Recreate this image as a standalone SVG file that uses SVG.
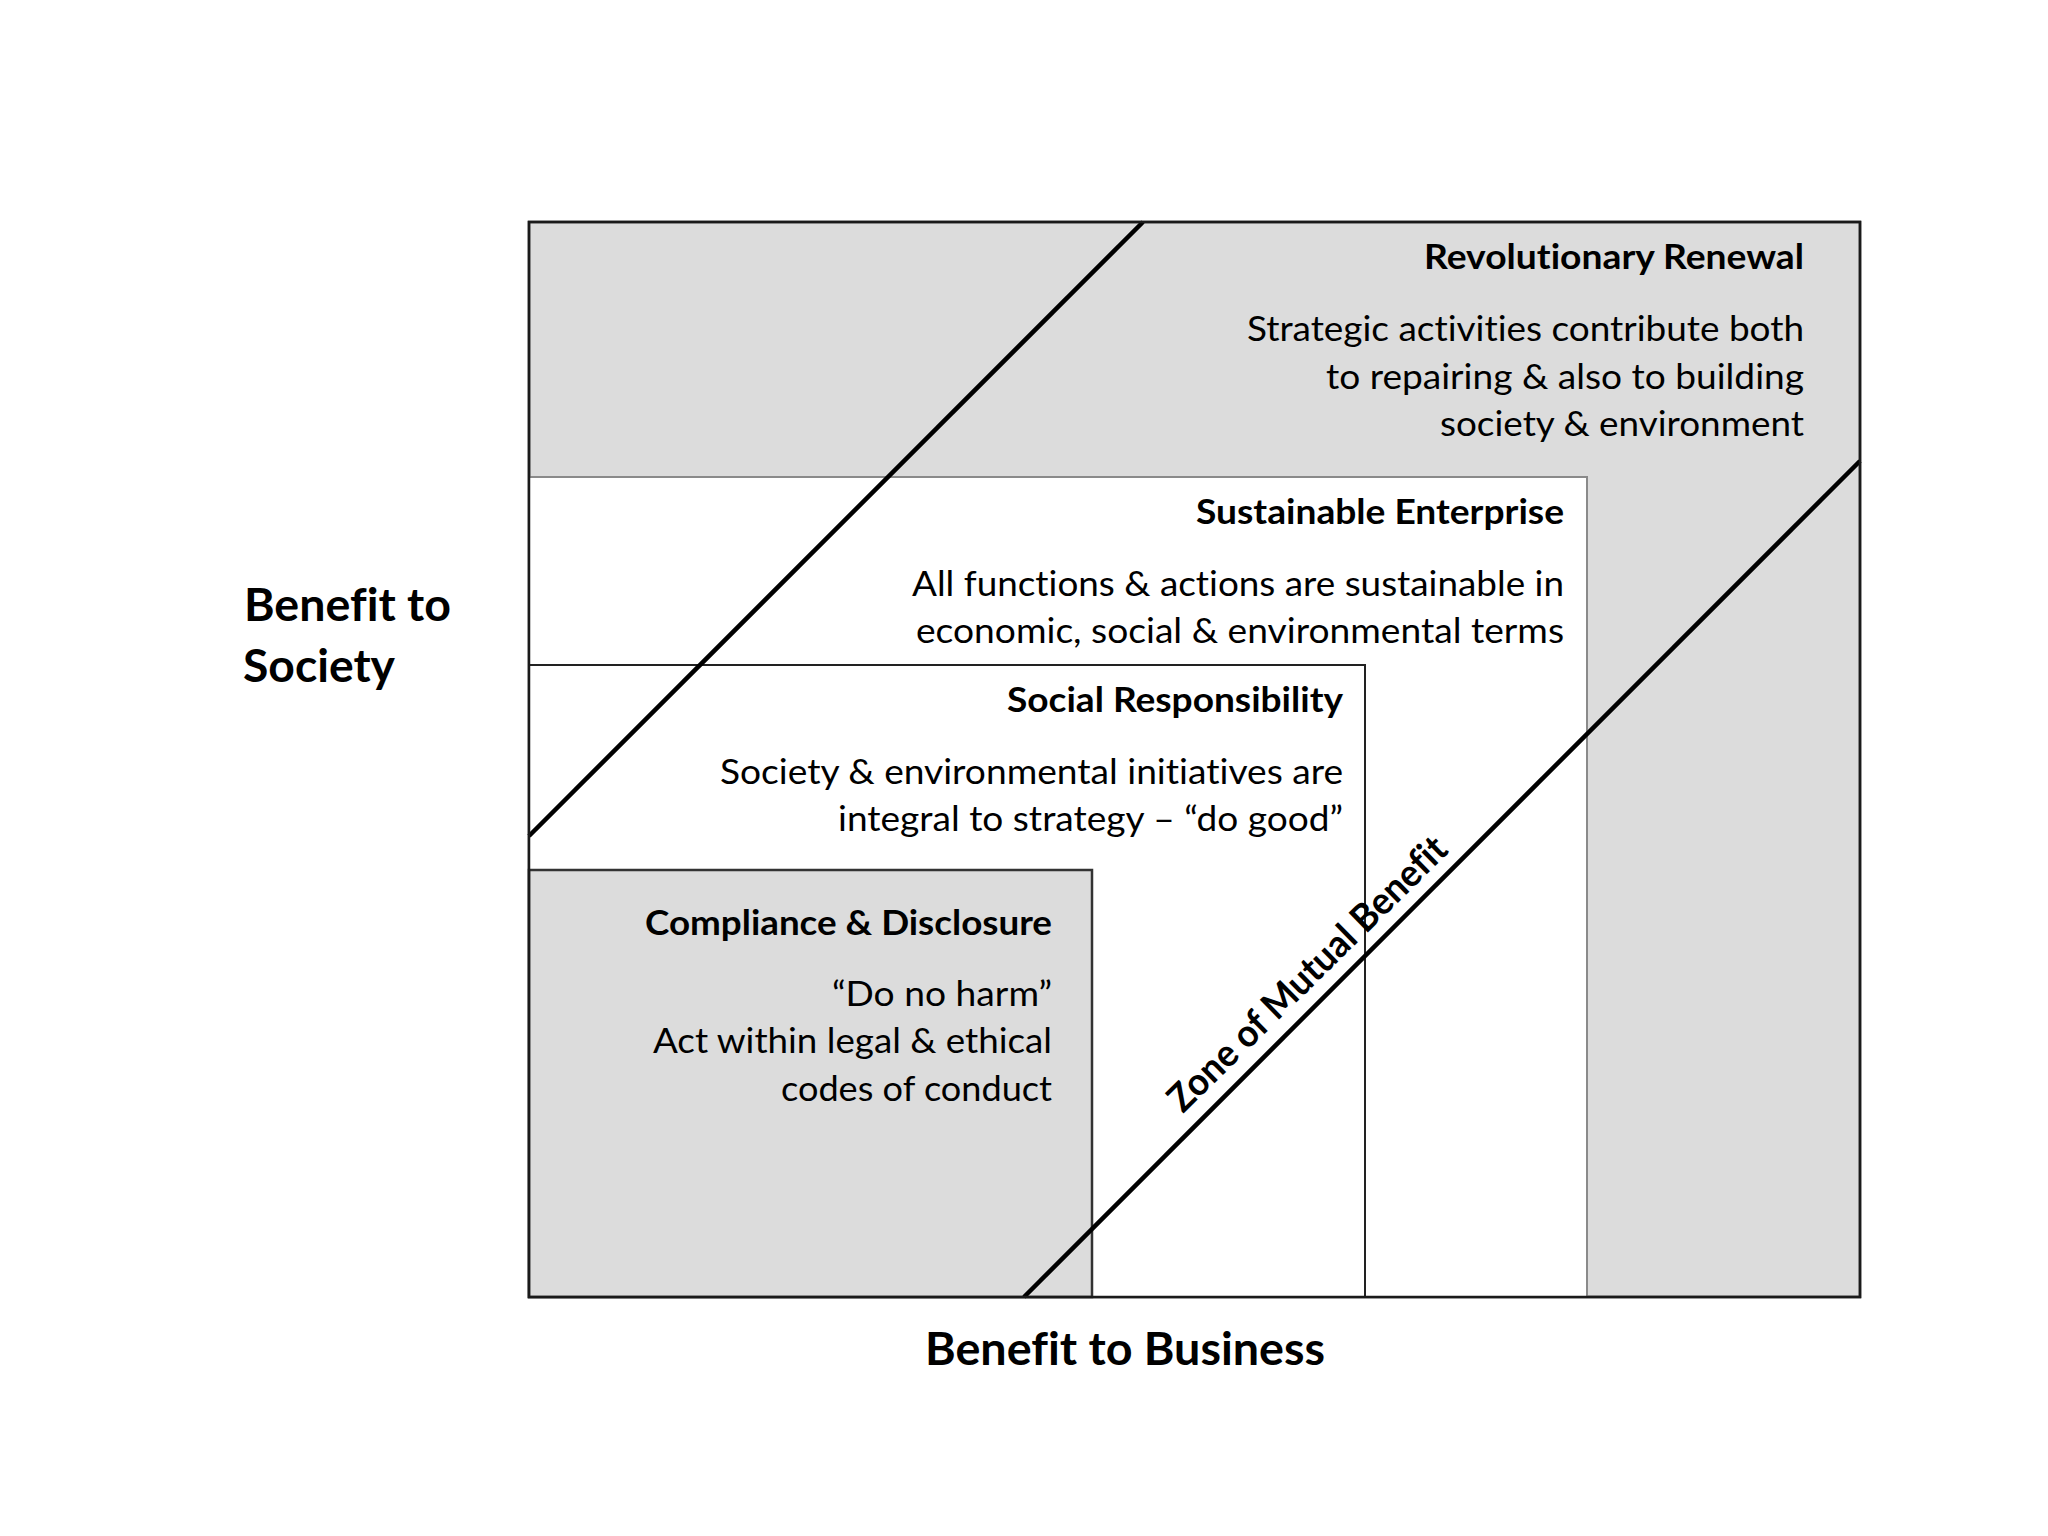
<svg xmlns="http://www.w3.org/2000/svg" width="2048" height="1536" viewBox="0 0 2048 1536">
<style>
text{font-variant-ligatures:none}
.t{font-family:Lato,"Liberation Sans",sans-serif;fill:#000;text-anchor:end}
.h{font-size:35px;font-weight:bold}
.b{font-size:35px}
.ax{font-family:Lato,"Liberation Sans",sans-serif;font-size:46px;font-weight:bold;fill:#000}
.diag{stroke:#000;stroke-width:4.5;fill:none}
</style>
<rect width="2048" height="1536" fill="#fff"/>
<g id="revolutionary-renewal">
<rect x="529" y="222" width="1331" height="1075" fill="#dcdcdc" stroke="#1a1a1a" stroke-width="2.5"/>
</g>
<g id="sustainable-enterprise">
<rect x="529" y="477" width="1058" height="820" fill="#fff" stroke="#8a8a8a" stroke-width="2"/>
</g>
<g id="social-responsibility">
<rect x="529" y="665" width="836" height="632" fill="#fff" stroke="#222" stroke-width="2"/>
</g>
<g id="compliance-disclosure">
<rect x="529" y="870" width="563" height="427" fill="#dcdcdc" stroke="#333" stroke-width="2.5"/>
</g>
<g id="connectors">
<line class="diag" x1="529" y1="836" x2="1143" y2="222"/>
<line class="diag" x1="1024" y1="1297" x2="1860" y2="461"/>
</g>
<rect x="529" y="222" width="1331" height="1075" fill="none" stroke="#1a1a1a" stroke-width="2.5"/>
<g id="revolutionary-renewal-text">
<text class="t h" x="1804" y="269" textLength="380" lengthAdjust="spacingAndGlyphs">Revolutionary Renewal</text>
<text class="t b" x="1804" y="341" textLength="557" lengthAdjust="spacingAndGlyphs">Strategic activities contribute both</text>
<text class="t b" x="1804" y="389" textLength="478" lengthAdjust="spacingAndGlyphs">to repairing &amp; also to building</text>
<text class="t b" x="1804" y="436" textLength="364" lengthAdjust="spacingAndGlyphs">society &amp; environment</text>
</g>
<g id="sustainable-enterprise-text">
<text class="t h" x="1564" y="524" textLength="368" lengthAdjust="spacingAndGlyphs">Sustainable Enterprise</text>
<text class="t b" x="1564" y="596" textLength="652" lengthAdjust="spacingAndGlyphs">All functions &amp; actions are sustainable in</text>
<text class="t b" x="1564" y="643" textLength="648" lengthAdjust="spacingAndGlyphs">economic, social &amp; environmental terms</text>
</g>
<g id="social-responsibility-text">
<text class="t h" x="1343" y="712" textLength="336" lengthAdjust="spacingAndGlyphs">Social Responsibility</text>
<text class="t b" x="1343" y="784" textLength="623" lengthAdjust="spacingAndGlyphs">Society &amp; environmental initiatives are</text>
<text class="t b" x="1343" y="831" textLength="505" lengthAdjust="spacingAndGlyphs">integral to strategy – “do good”</text>
</g>
<g id="compliance-disclosure-text">
<text class="t h" x="1052" y="935" textLength="407" lengthAdjust="spacingAndGlyphs">Compliance &amp; Disclosure</text>
<text class="t b" x="1052" y="1006" textLength="220" lengthAdjust="spacingAndGlyphs">“Do no harm”</text>
<text class="t b" x="1052" y="1053" textLength="399" lengthAdjust="spacingAndGlyphs">Act within legal &amp; ethical</text>
<text class="t b" x="1052" y="1101" textLength="271" lengthAdjust="spacingAndGlyphs">codes of conduct</text>
</g>
<g id="zone-label">
<text x="0" y="0" transform="translate(1183,1114) rotate(-44.5)" font-family="Lato,'Liberation Sans',sans-serif" font-size="38" font-weight="bold" textLength="374" lengthAdjust="spacingAndGlyphs">Zone of Mutual Benefit</text>
</g>
<g id="axis-labels">
<text class="ax" x="244" y="621" textLength="207" lengthAdjust="spacingAndGlyphs">Benefit to</text>
<text class="ax" x="243" y="682" textLength="152" lengthAdjust="spacingAndGlyphs">Society</text>
<text class="ax" x="925" y="1365" textLength="400" lengthAdjust="spacingAndGlyphs">Benefit to Business</text>
</g>
</svg>
